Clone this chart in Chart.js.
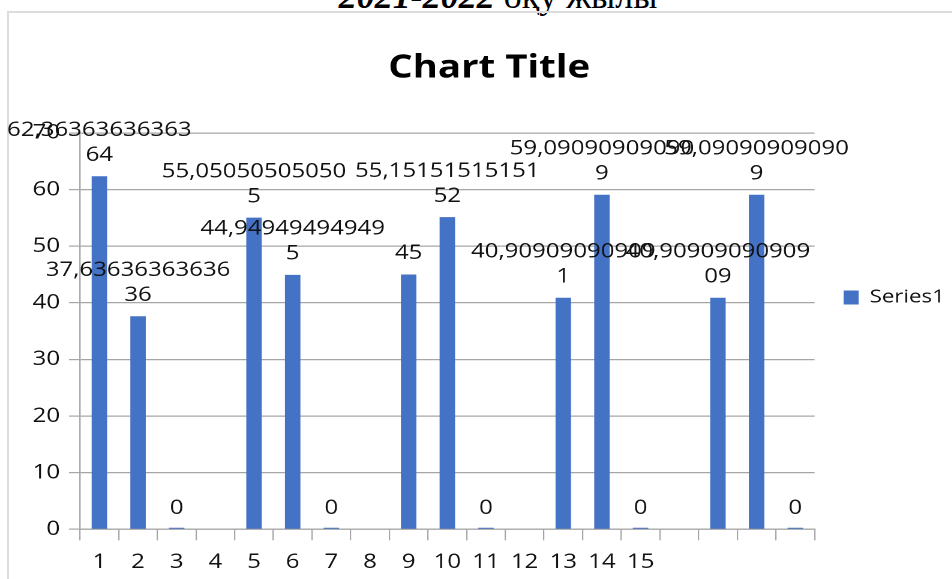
<!DOCTYPE html>
<html>
<head>
<meta charset="utf-8">
<script src="https://cdn.jsdelivr.net/npm/chart.js@4.4.1/dist/chart.umd.min.js"></script>
<style>
  html, body { margin: 0; width: 952px; height: 579px; overflow: hidden; background: #fff; }
  #caption { position: absolute; left: 0; width: 996px; top: -22px; text-align: center;
             font: 36px "Liberation Serif", serif; line-height: 1; color: #000; white-space: nowrap; }
  #frame { position: absolute; left: 7px; top: 11px; width: 960px; height: 580px;
           border-left: 2px solid #dcdcdc; border-top: 2px solid #dcdcdc; }
  #wrap { position: absolute; left: 0; top: 0; width: 817px; height: 579px;
          transform: scaleX(1.2); transform-origin: 0 0; }
</style>
</head>
<body>
<div id="caption"><b><i>2021-2022</i></b> оқу жылы</div>
<div id="frame"></div>
<div id="wrap"><canvas id="chart" width="817" height="579"></canvas></div>
<script>
// Data
const categories = ["1", "2", "3", "4", "5", "6", "7", "8", "9", "10", "11", "12", "13", "14", "15", "", "", "", ""];
const values = [62.3636363636364, 37.6363636363636, 0, null, 55.050505050505, 44.949494949495, 0, null,
  45, 55.1515151515152, 0, null, 40.909090909091, 59.090909090909, 0, null,
  40.9090909090909, 59.090909090909, 0];
const seriesName = "Series1";
const yMin = 0, yMax = 70, yStep = 10;

const textColor = "#111";
const gridColor = "#a6a6a6";
Chart.defaults.font.family = '"Open Sans", sans-serif';

// Excel style value labels, long numbers wrap after 14 characters
const barLabels = {
  id: "barLabels",
  afterDatasetsDraw(chart) {
    const ctx = chart.ctx;
    const y = chart.scales.y;
    const meta = chart.getDatasetMeta(0);
    ctx.save();
    ctx.font = '20px "Open Sans"';
    ctx.fillStyle = textColor;
    ctx.textAlign = "center";
    ctx.textBaseline = "middle";
    meta.data.forEach((bar, i) => {
      const v = values[i];
      if (v === null) return;
      const lines = String(v).replace(".", ",").match(/.{1,14}/g);
      const top = y.getPixelForValue(v);
      lines.forEach((line, k) => {
        ctx.fillText(line, bar.x, top - 21 - (lines.length - 1 - k) * 25);
      });
    });
    ctx.restore();
  }
};

new Chart(document.getElementById("chart"), {
  type: "bar",
  data: {
    labels: categories,
    datasets: [{
      label: seriesName,
      data: values,
      backgroundColor: "#4472C4",
      barPercentage: 0.4,
      categoryPercentage: 1,
      minBarLength: 1.5
    }]
  },
  options: {
    responsive: false,
    animation: false,
    devicePixelRatio: 2,
    layout: { padding: { left: 18, right: 19.7, top: 0, bottom: 0 } },
    plugins: {
      title: {
        display: true,
        text: "Chart Title",
        color: "#000",
        font: { size: 32, weight: "bold" },
        padding: { top: 49, bottom: 45.6 }
      },
      legend: {
        position: "right",
        align: "start",
        // empty title only pushes the single entry down to mid height
        title: { display: true, text: " ", font: { size: 10 }, padding: { top: 252, bottom: 0 } },
        labels: { boxWidth: 12.5, boxHeight: 14, padding: 24.2, color: textColor, font: { size: 18.5 } }
      },
      tooltip: { enabled: false }
    },
    scales: {
      x: {
        grid: { drawOnChartArea: false, drawTicks: true, tickLength: 11, color: gridColor, lineWidth: 1.1, offset: true },
        border: { color: gridColor, width: 1.2 },
        ticks: { color: textColor, font: { size: 20 }, padding: 10, maxRotation: 0, autoSkip: false },
        afterFit(scale) { scale.height = 49.7; }
      },
      y: {
        min: yMin,
        max: yMax,
        ticks: { stepSize: yStep, color: textColor, font: { size: 20 }, padding: 7.5 },
        grid: { color: gridColor, lineWidth: 1.2, tickLength: 9.2 },
        border: { display: true, color: gridColor, width: 1.2 },
        afterFit(scale) { scale.width = 48.7; }
      }
    }
  },
  plugins: [barLabels]
});
</script>
</body>
</html>
